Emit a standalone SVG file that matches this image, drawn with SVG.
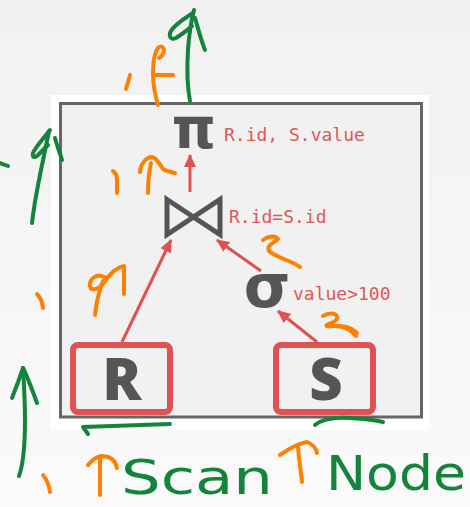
<svg xmlns="http://www.w3.org/2000/svg" width="470" height="507" viewBox="0 0 470 507">
<defs>
<linearGradient id="bg" x1="0" y1="0" x2="0" y2="1">
<stop offset="0" stop-color="#f1f1f1"/>
<stop offset="1" stop-color="#fafafa"/>
</linearGradient>
<marker id="ah" markerUnits="userSpaceOnUse" markerWidth="13" markerHeight="12" refX="12" refY="6" orient="auto">
<path d="M0,0 L13,6 L0,12 Z" fill="#e05252"/>
</marker>
<style>
.frame{fill:#f1f1f1;stroke:#666;stroke-width:3}
.scan{fill:none;stroke:#e05252;stroke-width:6}
.edge{stroke:#e05252;stroke-width:3;fill:none;marker-end:url(#ah)}
.op{font-family:"DejaVu Sans",sans-serif;font-weight:bold;fill:#555;text-anchor:middle}
.lbl{font-family:"DejaVu Sans Mono","Liberation Mono",monospace;font-size:18px;fill:#e05858}
.rel{font-family:"Open Sans","DejaVu Sans",sans-serif;font-weight:800;font-size:58px;fill:#555;text-anchor:middle}
.g{fill:none;stroke:#14843c;stroke-width:4;stroke-linecap:round;stroke-linejoin:round}
.o{fill:none;stroke:#ff8000;stroke-width:4;stroke-linecap:round;stroke-linejoin:round}
.hw{font-family:"DejaVu Sans",sans-serif;font-size:48px;fill:#14843c}
</style>
</defs>
<rect x="0" y="0" width="470" height="507" fill="url(#bg)"/>
<rect x="51" y="95" width="378" height="335" fill="#ffffff"/>
<rect class="frame" x="60.5" y="103.5" width="361" height="313.5"/>

<g id="connectors">
<line class="edge" x1="190" y1="192" x2="190" y2="155"/>
<line class="edge" x1="122" y1="342" x2="171" y2="240"/>
<line class="edge" x1="261" y1="271" x2="217" y2="240"/>
<line class="edge" x1="317" y1="342" x2="278" y2="311"/>
</g>

<g id="projection">
<text class="op" x="194" y="148" font-size="56">π</text>
<text class="lbl" x="224" y="141">R.id, S.value</text>
</g>
<g id="join">
<path d="M167,199.5 L220,234.5 L220,199.5 L167,234.5 Z" fill="none" stroke="#555" stroke-width="5" stroke-linejoin="miter"/>
<text class="lbl" x="229" y="223">R.id=S.id</text>
</g>
<g id="selection">
<text class="op" x="267" y="307" font-size="60">σ</text>
<text class="lbl" x="293" y="300">value&gt;100</text>
</g>
<g id="scanR">
<rect class="scan" x="73" y="345" width="97" height="67" rx="5"/>
<text class="rel" x="122" y="400">R</text>
</g>
<g id="scanS">
<rect class="scan" x="276" y="345" width="97" height="67" rx="5"/>
<text class="rel" x="326" y="400">S</text>
</g>

<g id="ink">
<path class="g" d="M190,101 C187,85 187,65 188,50 C189,35 191,22 194,10"/>
<path class="g" d="M193,13 C185,18 172,27 170,33 C169,38 172,40 176,38 C182,34 188,30 192,26"/>
<path class="g" d="M195,18 C198,28 201,40 205,50"/>
<path class="o" d="M130,75 L126,89"/>
<path class="o" d="M158,105 C155,95 153,82 153,73 C153,62 155,52 158,48 C161,45 164,47 164,51 C163,55 161,57 159,58"/>
<path class="o" d="M153,75 L173,75"/>
<path class="g" d="M0,163 L8,166"/>
<path class="g" d="M32,223 C34,205 37,190 40,175 C43,160 46,145 49,131"/>
<path class="g" d="M50,130 C44,138 36,146 33,153 C32,157 34,158 37,156 C41,152 45,148 48,145"/>
<path class="g" d="M55,138 C57,146 60,153 62,160"/>
<path class="o" d="M113,171 C116,173 117,176 117,180 L117,193"/>
<path class="o" d="M148,193 C148,182 149,172 151,163"/>
<path class="o" d="M140,172 C140,165 146,157 152,157 C157,158 160,165 163,169 C166,171 170,172 175,173"/>
<path class="o" d="M37,294 C40,297 42,300 43,308"/>
<path class="o" d="M95,315 C96,303 99,292 103,281"/>
<path class="o" d="M104,277 C97,273 89,279 90,286 C91,291 98,290 103,284 C108,276 114,268 124,266 L124,294"/>
<path class="o" d="M263,240 C268,236 275,235 278,239 C274,243 266,245 269,251 C275,257 290,260 300,267"/>
<path class="o" d="M323,316 C330,312 339,313 337,319 C334,324 324,324 327,326 C335,327 347,323 357,333"/>
<path class="o" d="M335,326 C344,326 351,330 356,336"/>
<path class="g" d="M170,424 C140,425 110,426 83,427 L88,434"/>
<path class="g" d="M315,425 C322,419 335,417 350,418 C365,419 375,420 383,422"/>
<path class="g" d="M19,476 C24,462 25,440 25,420 C25,400 24,385 23,368"/>
<path class="g" d="M12,398 C16,388 20,377 23,368 C28,378 33,392 37,403"/>
<path class="o" d="M43,475 C47,480 49,485 50,492"/>
<path class="o" d="M88,465 C92,460 96,457 101,456 C108,456 115,458 117,468"/>
<path class="o" d="M100,458 L100,495"/>
<path class="o" d="M280,455 C290,448 300,443 307,442 C312,444 316,448 317,453"/>
<path class="o" d="M298,447 C299,460 301,472 302,482"/>
<text class="hw" x="121" y="494" textLength="152" lengthAdjust="spacingAndGlyphs">Scan</text>
<text class="hw" x="326" y="490" textLength="140" lengthAdjust="spacingAndGlyphs">Node</text>
</g>
</svg>
